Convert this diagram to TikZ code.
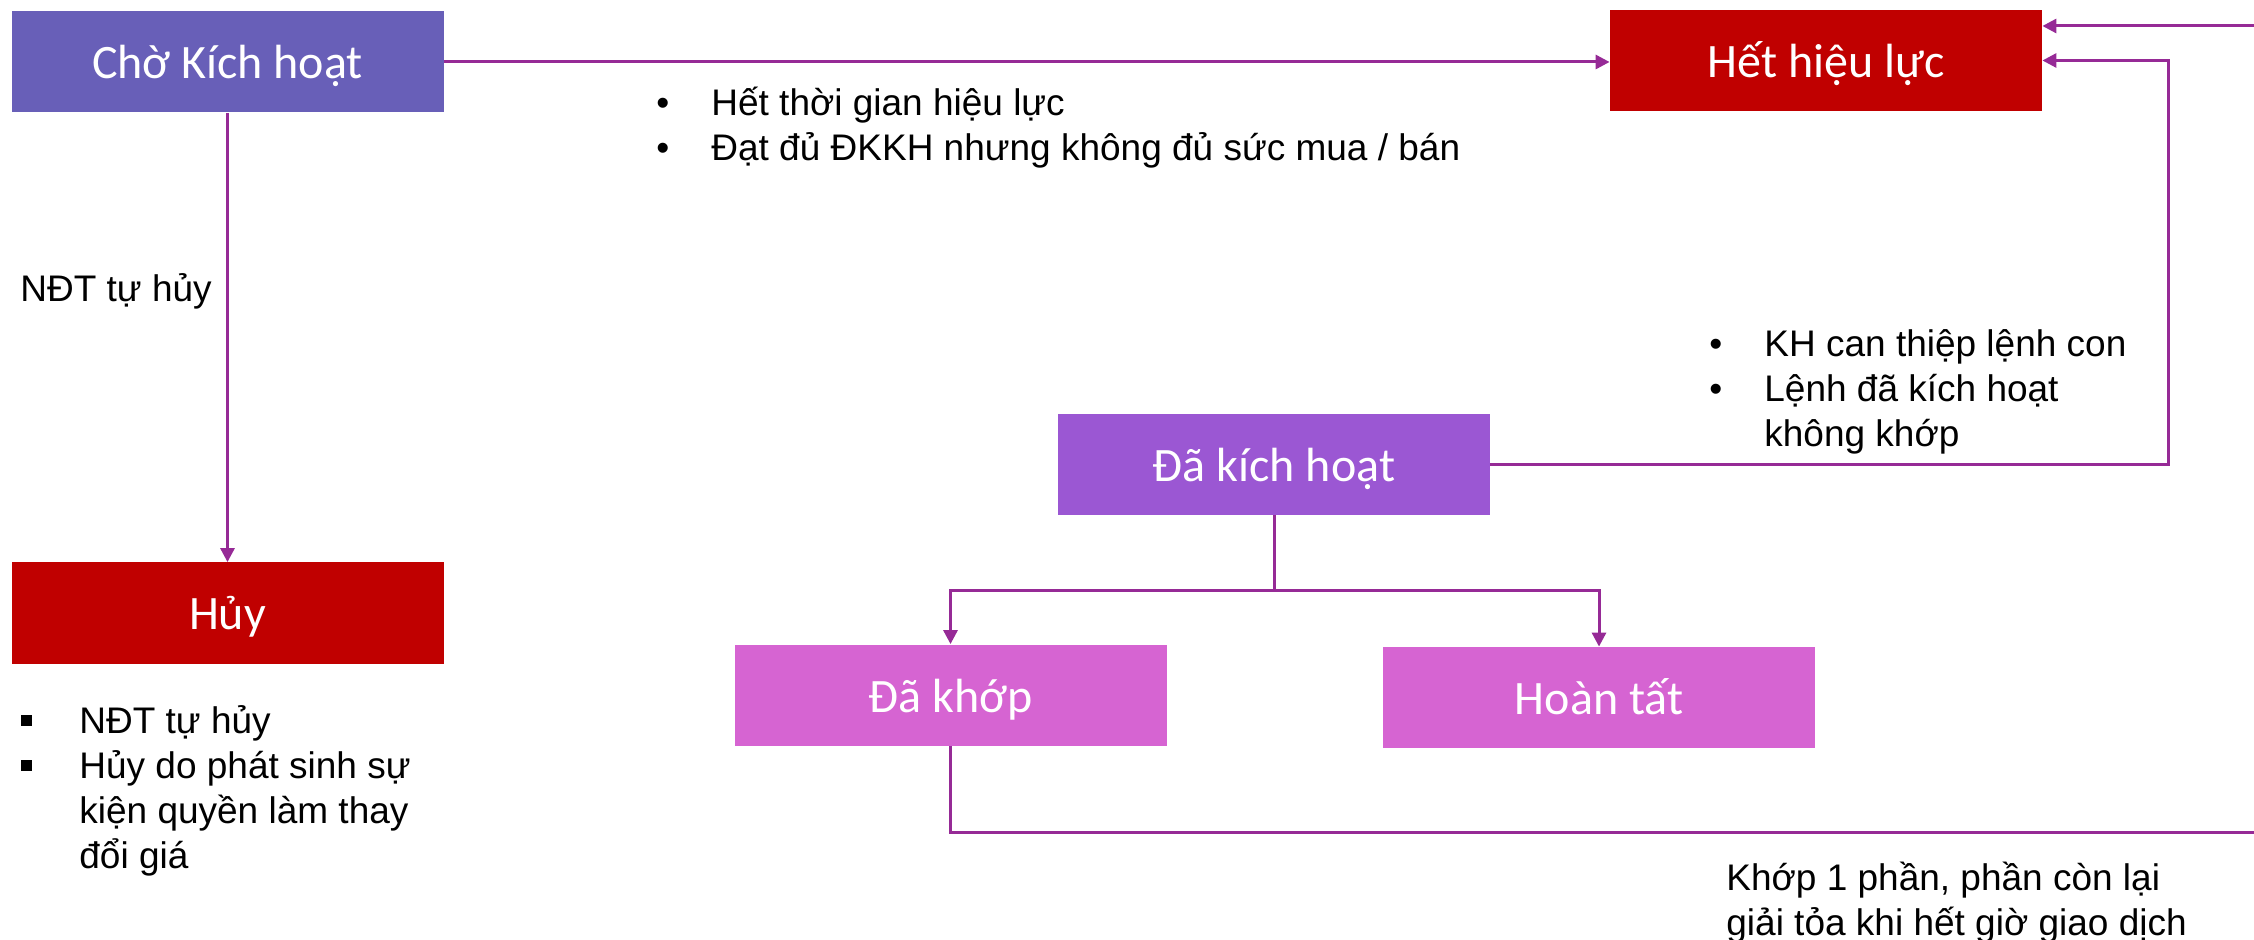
\documentclass[tikz,border=0pt]{standalone}
\usepackage{fontspec}
\setmainfont{Liberation Sans}
\newfontfamily\boxfont{Carlito}
\usetikzlibrary{arrows.meta}
\definecolor{cPurpleA}{RGB}{104,95,184}
\definecolor{cRed}{RGB}{192,0,0}
\definecolor{cPurpleB}{RGB}{155,87,211}
\definecolor{cPink}{RGB}{214,100,210}
\definecolor{cLine}{RGB}{150,42,150}
\newcommand\mybul{\makebox[27.5pt][l]{•}}
\newcommand\mysq{\makebox[29pt][l]{\rule[3.5pt]{5.5pt}{5.5pt}}}
\begin{document}
\begin{tikzpicture}[x=0.5pt,y=-0.5pt,
 statebox/.style={fill=#1, draw=none, text=white, minimum width=216pt, minimum height=50.5pt, inner sep=0pt, text height=19.5pt, text depth=2.5pt, font=\boxfont\fontsize{24}{28}\selectfont},
 conn/.style={draw=cLine, line width=1.5pt},
 arr/.style={conn, -{Triangle[length=7pt,width=7pt]}},
 lbl/.style={inner sep=0pt, anchor=base west, align=left, font=\fontsize{18.5}{22.5}\selectfont}
]
\useasboundingbox (0,0) rectangle (2254,940);
% states
\node[statebox=cPurpleA] (cho) at (227.5,62) {Chờ Kích hoạt};
\node[statebox=cRed] (het) at (1826,60.5) {Hết hiệu lực};
\node[statebox=cRed] (huy) at (227.5,613) {Hủy};
\node[statebox=cPurpleB] (dakh) at (1274,464.5) {Đã kích hoạt};
\node[statebox=cPink] (dakhop) at (950.5,695) {Đã khớp};
\node[statebox=cPink] (hoantat) at (1599,697.5) {Hoàn tất};
% helper coordinates
\coordinate (tr) at (2254,26);
\coordinate (rr) at (2168,0);
\coordinate (j) at (1275,591);
\coordinate (br) at (2254,832);
% connectors
\draw[arr] (cho.east) -- (cho.east -| het.west);
\draw[arr] (tr) -- (tr -| het.east);
\draw[arr] (dakh.east) -- (dakh.east -| rr) -- (rr |- het.east) -- (het.east);
\draw[arr] (cho.south) -- (huy.north);
\draw[conn] (dakh.south) -- (dakh.south |- j);
\draw[arr] (dakh.south |- j) -| (dakhop.north);
\draw[arr] (dakh.south |- j) -| (hoantat.north);
\draw[conn] (dakhop.south) |- (br);
% labels
\node[lbl] (l1) at (656,116) {\begin{tabular}[t]{@{}l@{}}\mybul Hết thời gian hiệu lực\\ \mybul Đạt đủ ĐKKH nhưng không đủ sức mua / bán\end{tabular}};
\node[lbl] (l2) at (1709,357) {\begin{tabular}[t]{@{}l@{}}\mybul KH can thiệp lệnh con\\ \mybul Lệnh đã kích hoạt\\ \hspace{27.5pt}không khớp\end{tabular}};
\node[lbl] (l3) at (20,302) {NĐT tự hủy};
\node[lbl] (l4) at (21,733) {\begin{tabular}[t]{@{}l@{}}\mysq NĐT tự hủy\\ \mysq Hủy do phát sinh sự\\ \hspace{29pt}kiện quyền làm thay\\ \hspace{29pt}đổi giá\end{tabular}};
\node[lbl] (l5) at (1726,890) {\begin{tabular}[t]{@{}l@{}}Khớp 1 phần, phần còn lại\\ giải tỏa khi hết giờ giao dịch\end{tabular}};
\end{tikzpicture}
\end{document}
